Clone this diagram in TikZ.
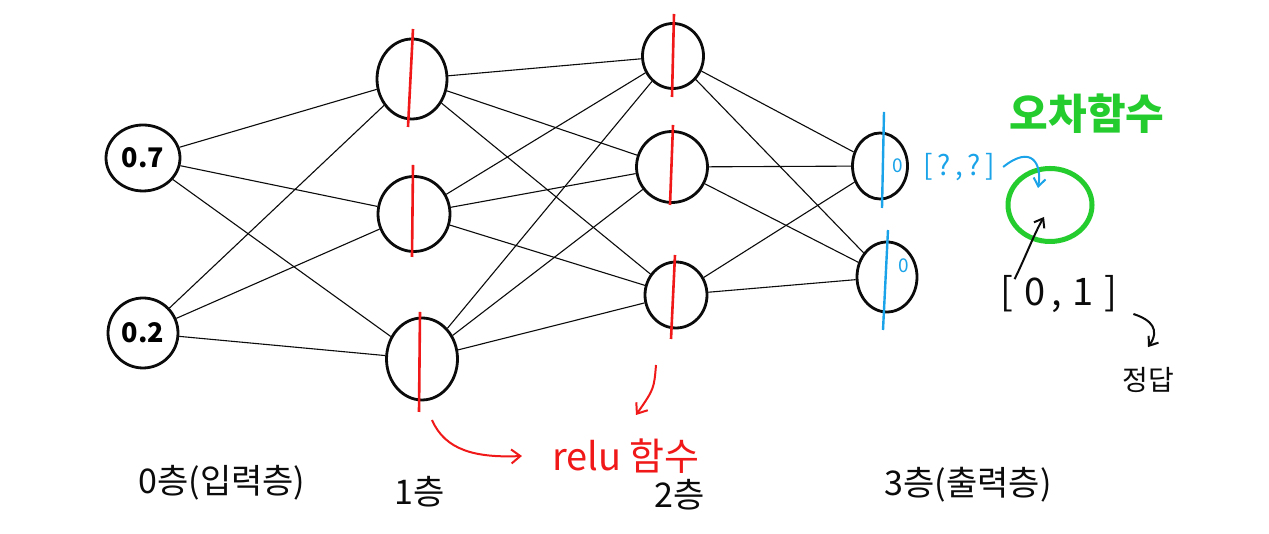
\documentclass[tikz,border=0pt]{standalone}
\usepackage{fontspec}
\setmainfont{Noto Sans CJK KR}
\usepackage{tikz}
\usetikzlibrary{arrows.meta,positioning,shapes.geometric,calc}
\definecolor{ink}{HTML}{0B0B0B}
\definecolor{relured}{HTML}{F01818}
\definecolor{outblue}{HTML}{1AA3E8}
\definecolor{lossgreen}{HTML}{24CC2E}

\begin{document}
\begin{tikzpicture}[x=1pt,y=1pt,
    neuron/.style={draw=ink,line width=2.8pt,ellipse,inner sep=0pt},
    wire/.style={ink,line width=1.1pt},
    relucut/.style={relured,line width=2.6pt},
    outcut/.style={outblue,line width=2.4pt},
    lbl/.style={font=\fontsize{34}{38}\selectfont,color=ink,inner sep=0pt}]
  \useasboundingbox (0,0) rectangle (1269,534);
  \fill[white] (0,0) rectangle (1269,534);
  % 0층
  \node[neuron,minimum width=74pt,minimum height=66pt,font=\fontsize{27}{29}\selectfont\bfseries] (in1) at (143,376) {0.7};
  \node[neuron,minimum width=70pt,minimum height=70pt,font=\fontsize{27}{29}\selectfont\bfseries] (in2) at (143,201) {0.2};
  % 1층
  \node[neuron,minimum width=70pt,minimum height=80pt] (ha1) at (412,455) {};
  \node[neuron,minimum width=72pt,minimum height=75pt] (ha2) at (414,320) {};
  \node[neuron,minimum width=71pt,minimum height=82pt] (ha3) at (422,175) {};
  % 2층
  \node[neuron,minimum width=61pt,minimum height=65pt] (hb1) at (673,478) {};
  \node[neuron,minimum width=71pt,minimum height=71pt] (hb2) at (672,367) {};
  \node[neuron,minimum width=62pt,minimum height=66pt] (hb3) at (676,239) {};
  % 3층
  \node[neuron,minimum width=55pt,minimum height=66pt] (out1) at (880,368) {};
  \node[neuron,minimum width=60pt,minimum height=70pt] (out2) at (887,257) {};
  \foreach \a in {in1,in2}{
    \foreach \b in {ha1,ha2,ha3}{\draw[wire] (\a) -- (\b);}}
  \foreach \a in {ha1,ha2,ha3}{
    \foreach \b in {hb1,hb2,hb3}{\draw[wire] (\a) -- (\b);}}
  \foreach \a in {hb1,hb2,hb3}{
    \foreach \b in {out1,out2}{\draw[wire] (\a) -- (\b);}}
  % relu
  \draw[relucut] ([shift={(1,50)}]ha1.center) -- ([shift={(-4,-48)}]ha1.center);
  \draw[relucut] ([shift={(-1,49)}]ha2.center) -- ([shift={(-2,-43)}]ha2.center);
  \draw[relucut] ([shift={(-2,47)}]ha3.center) -- ([shift={(-3,-53)}]ha3.center);
  \draw[relucut] ([shift={(1,42)}]hb1.center) -- ([shift={(-1,-41)}]hb1.center);
  \draw[relucut] ([shift={(1,42)}]hb2.center) -- ([shift={(-2,-38)}]hb2.center);
  \draw[relucut] ([shift={(-1,40)}]hb3.center) -- ([shift={(-5,-44)}]hb3.center);
  \draw[outcut] ([shift={(4,54)}]out1.center) -- ([shift={(2,-42)}]out1.center);
  \draw[outcut] ([shift={(1,47)}]out2.center) -- ([shift={(-4,-53)}]out2.center);
  \node[font=\fontsize{19}{21}\selectfont,color=outblue] (z1) at (898,368) {0};
  \node[font=\fontsize{19}{21}\selectfont,color=outblue] (z2) at (904,268) {0};
  \node[font=\fontsize{38}{42}\selectfont,color=relured,inner sep=0pt] (relu) at (626,78) {relu 함수};
  \coordinate (r1) at (432,114);
  \coordinate (r2) at (656,169);
  \draw[relured,line width=2pt,-{Straight Barb[length=9pt,width=14pt]}]
    (r1) .. controls (445,84) and (475,76) .. ([xshift=-30]relu.west);
  \draw[relured,line width=2pt,-{Straight Barb[length=9pt,width=14pt]}]
    (r2) .. controls (654,145) .. (636,119);
  % 오차함수
  \node[neuron,draw=lossgreen,line width=5pt,minimum width=84pt,minimum height=73pt] (loss) at (1050,329) {};
  \node[font=\fontsize{42}{46}\selectfont\bfseries,color=lossgreen,inner sep=0pt] (losstitle) at (1087,420) {오차함수};
  \node[font=\fontsize{28}{32}\selectfont,color=outblue,inner sep=0pt] (pred) at (959,367) {[\,?\,,\,?\,]};
  \node[font=\fontsize{38}{42}\selectfont,color=ink,inner sep=0pt] (ans) at (1059,240) {[\;0\,,\;1\;]};
  \node[font=\fontsize{28}{32}\selectfont,color=ink,inner sep=0pt] (jeongdap) at (1148,154) {정답};
  \coordinate (pin) at ($(loss.center)+(-6,-12)$);
  \draw[outblue,line width=2pt,-{Straight Barb[length=8pt,width=12pt]}]
    ([xshift=8]pred.east) .. controls (1032,390) and (1042,370) .. ($(loss.center)+(-12,17)$);
  \draw[ink,line width=2pt,-{Straight Barb[length=8pt,width=12pt]}]
    ([shift={(14,-4)}]ans.north west) .. controls (1026,278) and (1034,300) .. (pin);
  \draw[ink,line width=2pt,-{Straight Barb[length=8pt,width=12pt]}]
    ([shift={(16,-20)}]ans.east) .. controls (1152,214) and (1160,204) .. ([yshift=20]jeongdap.north);
  % 층 이름
  \node[lbl] (l0) at (222,51) {0층(입력층)};
  \node[lbl] (l1) at (420,42) {1층};
  \node[lbl] (l2) at (680,39) {2층};
  \node[lbl] (l3) at (968,49) {3층(출력층)};
\end{tikzpicture}
\end{document}
